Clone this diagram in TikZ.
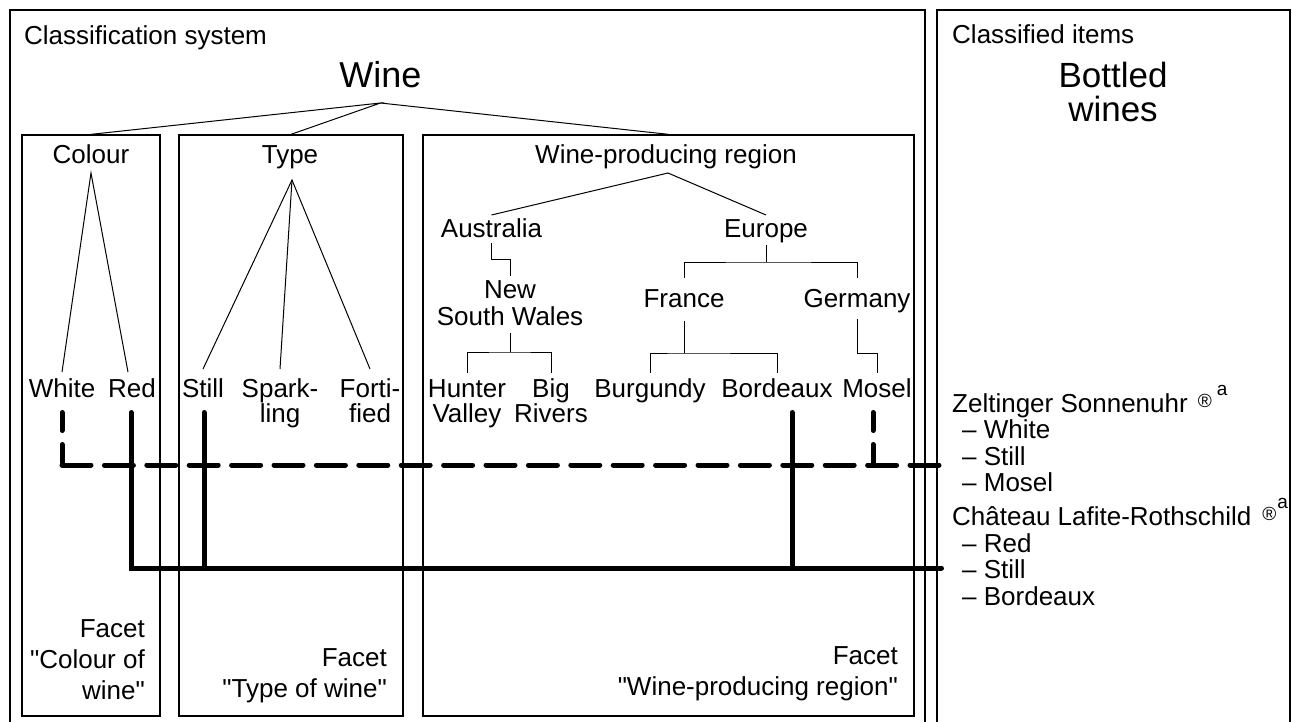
\documentclass[tikz,border=0pt]{standalone}
\usepackage{fontspec}
\setmainfont{Liberation Sans}[Ligatures=TeXOff]
\begin{document}
\begin{tikzpicture}[x=1pt,y=-1pt,
  txt/.style={inner sep=0pt, anchor=base, font=\fontsize{26}{26}\selectfont},
  twoline/.style={txt, align=center, font=\fontsize{26}{25}\selectfont},
  facetlbl/.style={inner sep=0pt, anchor=base east, align=right, font=\fontsize{26}{31}\selectfont},
  itemlist/.style={inner sep=0pt, anchor=base west, align=left, font=\fontsize{26}{26.5}\selectfont},
  outerframe/.style={line width=2pt},
  facetbox/.style={draw, line width=1.3pt, inner sep=0pt, minimum height=581pt},
  branch/.style={line width=1pt},
  link/.style={line width=5pt, line cap=round},
  dashv/.style={link, dash pattern=on 18pt off 14pt},
  dashh/.style={link, dash pattern=on 29pt off 13.4pt},
]
\useasboundingbox (0,0) rectangle (1292,722);

% frames of the two halves (open at the bottom)
\draw[outerframe] (10,724) -- (10,10) -- (925,10) -- (925,724);
\draw[outerframe] (937,724) -- (937,10) -- (1290,10) -- (1290,724);

% multi-line nodes below are placed by the baseline of their last line
\node[txt, anchor=base west] (clsys) at (24,45) {Classification system};
\node[txt, anchor=base west] (clitems) at (952,44) {Classified items};
\node[txt, font=\fontsize{36}{36}\selectfont] (wine) at (380.5,88) {Wine};
\node[txt, align=center, font=\fontsize{35}{33.5}\selectfont] (bottled) at (1113,121.5) {Bottled\\wines};

% facet boxes
\node[facetbox, minimum width=138pt] (colourbox) at (91,425.5) {};
\node[facetbox, minimum width=224pt] (typebox) at (291,425.5) {};
\node[facetbox, minimum width=491pt] (regionbox) at (668.5,425.5) {};

\coordinate (wineroot) at ([yshift=-15pt]wine.base);
\draw[branch] (colourbox.north) -- (wineroot) -- (typebox.north);
\draw[branch] (wineroot) -- (regionbox.north);

% facet titles
\node[txt] (colour) at (91,164) {Colour};
\node[txt] (type) at (290,164) {Type};
\node[txt] (region) at (666,164) {Wine-producing region};

% colour and type leaves
\node[txt] (white) at (62,397) {White};
\node[txt] (red) at (132,397) {Red};
\node[txt] (still) at (203,397) {Still};
\node[twoline] (sparkling) at (280,422) {Spark-\\ling};
\node[twoline] (fortified) at (370,422) {Forti-\\fied};

\coordinate (colour-j) at ([yshift=-9pt]colour.base);
\coordinate (type-j) at ([xshift=2pt,yshift=-16pt]type.base);
\coordinate (region-j) at ([xshift=2pt,yshift=-9pt]region.base);

\draw[branch] ([yshift=25pt]white.base) -- (colour-j) -- ([xshift=-4pt,yshift=25pt]red.base);
\draw[branch] ([yshift=28pt]still.base) -- (type-j) -- ([yshift=53pt]fortified.base);
\draw[branch] (type-j) -- ([yshift=53pt]sparkling.base);

% region hierarchy
\node[txt] (australia) at (491.5,237) {Australia};
\node[txt] (europe) at (766,237) {Europe};
\node[twoline, font=\fontsize{26}{27}\selectfont] (nsw) at (510,325) {New\\South Wales};
\node[txt] (france) at (684,307) {France};
\node[txt] (germany) at (857,307) {Germany};
\node[twoline] (hunter) at (467,422) {Hunter\\Valley};
\node[twoline] (bigrivers) at (551,422) {Big\\Rivers};
\node[txt] (burgundy) at (650,397) {Burgundy};
\node[txt] (bordeaux) at (777,397) {Bordeaux};
\node[txt] (mosel) at (877,397) {Mosel};

\draw[branch] ([yshift=22pt]australia.base) -- (region-j) -- ([yshift=22pt]europe.base);
\draw[branch] ([yshift=-6pt]australia.base) -- ++(0,16) -| ([yshift=49pt]nsw.base);

\coordinate (nsw-j) at ([yshift=-27pt]nsw.base);
\draw[branch] ([yshift=-8pt]nsw.base) -- (nsw-j);
\draw[branch] ([yshift=49pt]hunter.base) |- (nsw-j) -| ([yshift=49pt]bigrivers.base);

\coordinate (europe-j) at ([yshift=-25pt]europe.base);
\draw[branch] ([yshift=-8pt]europe.base) -- (europe-j);
\draw[branch] ([yshift=29pt]france.base) |- (europe-j) -| ([yshift=29pt]germany.base);

\coordinate (france-j) at ([yshift=-46pt]france.base);
\draw[branch] ([yshift=-14pt]france.base) -- (france-j);
\draw[branch] ([yshift=24pt]burgundy.base) |- (france-j) -| ([yshift=24pt]bordeaux.base);

\draw[branch] ([yshift=-12pt]germany.base) -- ++(0,34) -| ([yshift=24pt]mosel.base);

% facet names
\node[facetlbl] (colourfacet) at (145,699) {Facet\\"Colour of\\wine"};
\node[facetlbl] (typefacet) at (387,697) {Facet\\"Type of wine"};
\node[facetlbl] (regionfacet) at (898,695) {Facet\\"Wine-producing region"};

% classified items
\node[itemlist] (zeltinger) at (952,491.5) {Zeltinger Sonnenuhr\hspace{10pt}\raisebox{5pt}{\fontsize{19}{19}\selectfont ®}\hspace{5pt}\raisebox{17pt}{\fontsize{19}{19}\selectfont a}\\
  \hspace*{10pt}– White\\\hspace*{10pt}– Still\\\hspace*{10pt}– Mosel};
\node[itemlist] (chateau) at (952,605) {Château Lafite-Rothschild\hspace{11pt}\raisebox{5pt}{\fontsize{19}{19}\selectfont ®}\hspace{1pt}\raisebox{17pt}{\fontsize{19}{19}\selectfont a}\\
  \hspace*{10pt}– Red\\\hspace*{10pt}– Still\\\hspace*{10pt}– Bordeaux};

% links between items and the facet values they carry
\coordinate (zelt-link) at (941.5,465);
\coordinate (chat-link) at (941.5,568);

\coordinate (white-drop) at ([yshift=-15.5pt]white.base);
\coordinate (mosel-drop) at ([xshift=-4pt,yshift=-15.5pt]mosel.base);
\coordinate (red-drop) at ([xshift=-1pt,yshift=-15.5pt]red.base);
\coordinate (still-drop) at ([xshift=1pt,yshift=-15.5pt]still.base);
\coordinate (bordeaux-drop) at ([xshift=15pt,yshift=-15.5pt]bordeaux.base);

\draw[dashv] (white-drop) -- (white-drop |- zelt-link);
\draw[dashh] (white-drop |- zelt-link) -- (zelt-link);
\draw[dashv] (mosel-drop) -- (mosel-drop |- zelt-link);

\draw[link] (red-drop) |- (chat-link);
\draw[link] (still-drop) -- (still-drop |- chat-link);
\draw[link] (bordeaux-drop) -- (bordeaux-drop |- chat-link);
\end{tikzpicture}
\end{document}
